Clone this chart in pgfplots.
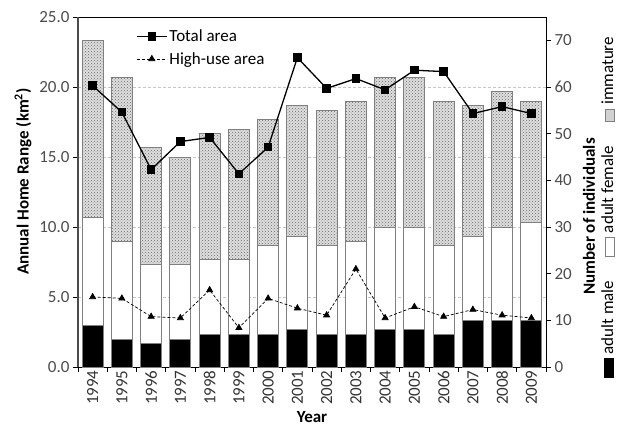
\documentclass[border=0pt]{standalone}
\usepackage{pgfplots}
\pgfplotsset{compat=1.18}
\usepackage{pgfplotstable}
\usepackage{fontspec}
\setmainfont{Carlito}
\usetikzlibrary{patterns}

\pgfplotstableread{
x male female imm
0 9 23 38
1 6 21 35
2 5 17 25
3 6 16 23
4 7 16 27
5 7 16 28
6 7 19 27
7 8 20 28
8 7 19 29
9 7 20 30
10 8 22 32
11 8 22 32
12 7 19 31
13 10 18 28
14 10 20 29
15 10 21 26
}\bars

\pgfplotstableread{
x total high
0 20.1 5.0
1 18.2 4.9
2 14.1 3.6
3 16.1 3.5
4 16.4 5.5
5 13.8 2.8
6 15.7 4.9
7 22.1 4.2
8 19.9 3.7
9 20.6 7.0
10 19.8 3.5
11 21.2 4.3
12 21.1 3.6
13 18.1 4.1
14 18.6 3.7
15 18.1 3.5
}\areas

\newcommand\fs{\fontsize{17}{20}\selectfont}
\newcommand\keyA{\textcolor{black}{\rule[-1pt]{20pt}{10pt}}}
\newcommand\keyB{\raisebox{-1pt}{\setlength\fboxsep{0pt}\setlength\fboxrule{0.8pt}\fcolorbox{gray}{white}{\rule{0pt}{8.4pt}\hspace{18pt}}}}
\newcommand\keyC{\raisebox{-1pt}{\setlength\fboxsep{0pt}\setlength\fboxrule{0.8pt}\fcolorbox{gray}{gray!35}{\rule{0pt}{8.4pt}\hspace{12pt}}}}

\begin{document}
\begin{tikzpicture}
\pgfplotsset{every axis/.append style={width=468pt, height=350pt, scale only axis,
  xmin=-0.5, xmax=15.5, font=\fs, /pgf/number format/assume math mode=true,
  tick align=outside, major tick length=5pt, tick style={black, line width=0.8pt},
  yticklabel style={black!70}}}

\begin{axis}[
  ymin=0, ymax=75,
  ybar stacked, bar width=21pt,
  axis line style={black, line width=1pt},
  ytick={0,10,...,70}, ytick pos=right, yticklabel pos=right,
  xtick={-0.5,0.5,...,15.5}, xticklabels={}, xtick pos=left,
  extra x ticks={0,...,15},
  extra x tick labels={1994,1995,1996,1997,1998,1999,2000,2001,2002,2003,2004,2005,2006,2007,2008,2009},
  extra x tick style={major tick length=0pt, xticklabel style={rotate=90, anchor=east, black!80}},
  extra y ticks={15,30,45,60}, extra y tick labels={},
  extra y tick style={grid=major, major tick length=0pt},
  major grid style={densely dashed, gray!45, line width=0.8pt},
  every axis y label/.style={at={(axis description cs:1.092,0.43)}, rotate=90, anchor=center, font=\fs\bfseries},
  ylabel={Number of individuals},
  every axis x label/.style={at={(axis description cs:0.5,-0.143)}, anchor=center, font=\fs\bfseries},
  xlabel={Year},
]
\addplot[fill=black, draw=gray, line width=1pt] table[x=x,y=male]{\bars};
\addplot[fill=white, draw=gray, line width=1pt] table[x=x,y=female]{\bars};
\addplot[fill=gray!25, draw=gray, line width=1pt, postaction={pattern=crosshatch dots, pattern color=black!60}] table[x=x,y=imm]{\bars};
\end{axis}

\begin{axis}[
  ymin=0, ymax=25,
  axis y line*=left, axis x line=none,
  axis line style={black!70, line width=1.3pt},
  ytick={0,5,...,25},
  yticklabel style={/pgf/number format/.cd, fixed, fixed zerofill, precision=1},
  every axis y label/.style={at={(axis description cs:-0.1175,0.53)}, rotate=90, anchor=center, font=\fs\bfseries},
  ylabel={Annual Home Range (km\textsuperscript{2})},
  legend style={at={(axis description cs:0.1175,0.975)}, anchor=north west, draw=none, fill=none, font=\fs, row sep=5pt},
  legend cell align=left,
  legend image code/.code={\draw[mark repeat=2, mark phase=2] plot coordinates {(0pt,0pt) (15pt,0pt) (30pt,0pt)};},
]
\addplot[black, line width=1.3pt, mark=square*, mark size=3.5pt] table[x=x,y=total]{\areas};
\addlegendentry{Total area}
\addplot[black, line width=0.7pt, densely dashed, mark=triangle*, mark size=3.5pt, mark options={solid}] table[x=x,y=high]{\areas};
\addlegendentry{High-use area}
\end{axis}

\node[rotate=90, font=\fontsize{17}{20}\selectfont, anchor=center, inner sep=0pt] at (530pt,159.5pt)
  {\keyA\hspace{4pt}adult male\hspace{24pt}\keyB\hspace{4pt}adult female\hspace{24pt}\keyC\hspace{4pt}immature};

\pgfresetboundingbox
\useasboundingbox (-78pt,-61pt) rectangle (540pt,367pt);
\end{tikzpicture}
\end{document}
